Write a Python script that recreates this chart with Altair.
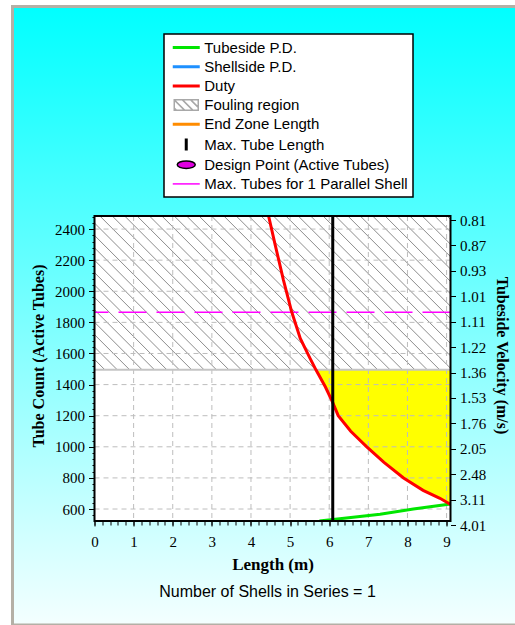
import altair as alt
import numpy as np
import pandas as pd

# ---------------- data ----------------
DUTY_L = [4.45, 4.62, 4.83, 5.04, 5.26, 5.51, 5.66, 5.90, 6.08, 6.23, 6.55, 6.96, 7.40, 7.90, 8.40, 8.83, 9.10]
DUTY_N = [2484, 2297, 2072, 1868, 1697, 1569, 1495, 1386, 1290, 1200, 1100, 1000, 900, 800, 720, 669, 630]

TUBE_PD_L = [5.75, 7.30, 8.15, 9.10]
TUBE_PD_N = [523, 566, 600, 632]

FOULING_N = 1495
MAX_TUBES_1_SHELL = 1865
MAX_TUBE_LENGTH = 6.09

X_DOMAIN = [0, 9.1]
Y_DOMAIN = [523, 2484]
X_TICKS = list(range(0, 10))
Y_TICKS = list(range(600, 2401, 200))
X_MINOR = [round(0.2 * i, 1) for i in range(46)]
Y_MINOR = list(range(560, 2481, 40))
GRID_X = list(range(1, 10))
GRID_Y = list(range(600, 2401, 200))

VEL_LABELS = ["0.81", "0.87", "0.93", "1.01", "1.11", "1.22", "1.36",
              "1.53", "1.76", "2.05", "2.48", "3.11", "4.01"]

LEGEND_LABELS = ["Tubeside P.D.", "Shellside P.D.", "Duty", "Fouling region",
                 "End Zone Length", "Max. Tube Length", "Design Point (Active Tubes)",
                 "Max. Tubes for 1 Parallel Shell"]
LEGEND_STROKES = ["#00e600", "#1e90ff", "#ff0000", "#a8a8a8",
                  "#ff8c00", "#000000", "#000000", "#ff00ff"]
LEGEND_FILLS = ["transparent", "transparent", "transparent", "transparent",
                "transparent", "transparent", "#e000e0", "transparent"]
THICK_LINE = "M-1.8,-0.1H1.8M-1.8,0.1H1.8"
LEGEND_SHAPES = [
    THICK_LINE,
    THICK_LINE,
    THICK_LINE,
    "M-1.6,-0.7H1.6V0.7H-1.6Z M-1.6,-0.7L-0.2,0.7 M-0.5,-0.7L0.9,0.7 M0.6,-0.7L1.6,0.3 M-1.6,0.4L-1.3,0.7",
    THICK_LINE,
    "M-0.1,-0.8V0.8M0.1,-0.8V0.8",
    "M-1.2,0A1.2,0.5,0,1,0,1.2,0A1.2,0.5,0,1,0,-1.2,0Z",
    "M-1.8,0H1.8",
]

# ---------------- layout ----------------
W, H = 356, 305
PAD_L, PAD_T = 94.5, 216
PAD_R = 515 - PAD_L - W
PAD_B = 625 - PAD_T - H

XS = alt.Scale(domain=X_DOMAIN, nice=False, zero=False)
YS = alt.Scale(domain=Y_DOMAIN, nice=False, zero=False)

duty_df = pd.DataFrame({"L": DUTY_L, "N": DUTY_N, "foul": FOULING_N})
tpd_df = pd.DataFrame({"L": TUBE_PD_L, "N": TUBE_PD_N})
frame_df = pd.DataFrame({"x0": [X_DOMAIN[0]], "x1": [X_DOMAIN[1]],
                         "y0": [Y_DOMAIN[0]], "y1": [Y_DOMAIN[1]]})

# hatch texture for the fouling region (45 degree lines)
px_per_n = H / (Y_DOMAIN[1] - Y_DOMAIN[0])
px_per_l = W / (X_DOMAIN[1] - X_DOMAIN[0])
dx = (Y_DOMAIN[1] - FOULING_N) * px_per_n / px_per_l
starts = np.arange(-4.3, X_DOMAIN[1] + 0.3, 12.4 / px_per_l)
hatch_df = pd.DataFrame({"hx": starts, "hx2": starts + dx,
                         "hy": Y_DOMAIN[1], "hy2": FOULING_N})

gx_df = pd.DataFrame({"gx": GRID_X})
gy_df = pd.DataFrame({"gy": GRID_Y})
one_df = pd.DataFrame({"a": [0]})

# ---------------- layers ----------------
bg = alt.Chart(one_df).mark_rect(
    fill={"gradient": "linear", "x1": 0, "x2": 0, "y1": 0, "y2": 1,
          "stops": [{"offset": 0, "color": "#00ffff"},
                    {"offset": 1, "color": "#f4ffff"}]},
    stroke="#b4b0a6", strokeWidth=3,
).encode(
    x=alt.value(12.5 - PAD_L), x2=alt.value(530 - PAD_L),
    y=alt.value(6.5 - PAD_T), y2=alt.value(625 - PAD_T),
)

plot_bg = alt.Chart(frame_df).mark_rect(fill="white").encode(
    x=alt.X("x0:Q", scale=XS, axis=None), x2="x1:Q",
    y=alt.Y("y1:Q", scale=YS, axis=None), y2="y0:Q",
)

yellow = alt.Chart(duty_df).transform_filter(
    f"datum.N <= {FOULING_N}"
).mark_area(color="#ffff00", opacity=1).encode(
    x=alt.X("L:Q", scale=XS, axis=None),
    y=alt.Y("N:Q", scale=YS, axis=None),
    y2="foul:Q",
)

hatch = alt.Chart(hatch_df).mark_rule(clip=True, color="#8c8c8c", strokeWidth=1).encode(
    x=alt.X("hx:Q", scale=XS, axis=None), x2="hx2:Q",
    y=alt.Y("hy:Q", scale=YS, axis=None), y2="hy2:Q",
)

grid_x = alt.Chart(gx_df).mark_rule(color="#bdbdbd", strokeDash=[5, 4], strokeWidth=1).encode(
    x=alt.X("gx:Q", scale=XS, axis=None))
grid_y = alt.Chart(gy_df).mark_rule(color="#bdbdbd", strokeDash=[5, 4], strokeWidth=1).encode(
    y=alt.Y("gy:Q", scale=YS, axis=None))

foul_line = alt.Chart(one_df).mark_rule(color="#c4c4c4", strokeWidth=2).encode(
    y=alt.YDatum(FOULING_N, scale=YS, axis=None))

magenta = alt.Chart(one_df).mark_rule(color="#ff00ff", strokeWidth=1.5,
                                      strokeDash=[28, 10]).encode(
    y=alt.YDatum(MAX_TUBES_1_SHELL, scale=YS, axis=None))

green = alt.Chart(tpd_df).mark_line(color="#00e600", strokeWidth=3, clip=True).encode(
    x=alt.X("L:Q", scale=XS, axis=None),
    y=alt.Y("N:Q", scale=YS, axis=None),
)

red = alt.Chart(duty_df).mark_line(color="#ff0000", strokeWidth=3, clip=True).encode(
    x=alt.X("L:Q", scale=XS, axis=None),
    y=alt.Y("N:Q", scale=YS, axis=None),
)

black = alt.Chart(one_df).mark_rule(color="black", strokeWidth=3).encode(
    x=alt.XDatum(MAX_TUBE_LENGTH, scale=XS, axis=None))

border = alt.Chart(frame_df).mark_rect(fill="transparent", stroke="black", strokeWidth=2).encode(
    x=alt.X("x0:Q", scale=XS, axis=None), x2="x1:Q",
    y=alt.Y("y1:Q", scale=YS, axis=None), y2="y0:Q",
)

LEG_PAD = 5
leg = alt.Legend(
    title=None, orient="none", legendX=164 - PAD_L, legendY=34 - PAD_T,
    padding=LEG_PAD, fillColor="white", strokeColor="black",
    symbolSize=225, symbolOffset=8.75, labelOffset=205 - 164 - LEG_PAD - 26.5,
    rowPadding=2.2,
    symbolFillColor="transparent", symbolStrokeWidth=1.5,
    labelFont="Liberation Sans", labelFontSize=15, labelColor="black",
    labelLimit=400,
)
legend_df = pd.DataFrame({"item": LEGEND_LABELS})
legend_layer = alt.Chart(legend_df).transform_filter("false").mark_point(
    filled=True, opacity=1
).encode(
    fill=alt.Fill("item:N", scale=alt.Scale(domain=LEGEND_LABELS, range=LEGEND_FILLS), legend=leg),
    stroke=alt.Stroke("item:N", scale=alt.Scale(domain=LEGEND_LABELS, range=LEGEND_STROKES), legend=leg),
    shape=alt.Shape("item:N", scale=alt.Scale(domain=LEGEND_LABELS, range=LEGEND_SHAPES), legend=leg),
)

main = alt.layer(bg, plot_bg, yellow, hatch, grid_x, grid_y, foul_line, magenta,
                 green, red, black, border, legend_layer)

# major axes (left / bottom)
major = alt.Chart(duty_df).mark_point(opacity=0).encode(
    x=alt.X("L:Q", scale=XS, axis=alt.Axis(
        orient="bottom", values=X_TICKS, format="d", grid=False, domain=False,
        tickSize=5, labelPadding=8, labelFlush=False, labelOverlap=False, zindex=1,
        title="Length (m)", titleX=W / 2, titleY=43, titleAlign="center",
        titleBaseline="middle", titleFontSize=17)),
    y=alt.Y("N:Q", scale=YS, axis=alt.Axis(
        orient="left", values=Y_TICKS, format="d", grid=False, domain=False,
        tickSize=6, labelPadding=4, labelFlush=False, labelOverlap=False, zindex=1,
        title="Tube Count (Active Tubes)", titleAngle=270, titleX=38 - PAD_L,
        titleY=139.5, titleAlign="center", titleBaseline="middle")),
)

# minor ticks
minor = alt.Chart(duty_df).mark_point(opacity=0).encode(
    x=alt.X("L:Q", scale=XS, axis=alt.Axis(
        orient="bottom", values=X_MINOR, labels=False, tickSize=4, domain=False,
        grid=False, title=None, zindex=1)),
    y=alt.Y("N:Q", scale=YS, axis=alt.Axis(
        orient="left", values=Y_MINOR, labels=False, tickSize=2.5, domain=False,
        grid=False, title=None, zindex=1)),
)

# right-hand velocity axis
vel_df = pd.DataFrame({"vi": list(range(len(VEL_LABELS)))})
vel_expr = "[" + ",".join("'" + s + "'" for s in VEL_LABELS) + "][datum.value]"
right = alt.Chart(vel_df).mark_point(opacity=0).encode(
    y=alt.Y("vi:Q",
            scale=alt.Scale(domain=[0, len(VEL_LABELS) - 1], reverse=True, nice=False, zero=False),
            axis=alt.Axis(orient="right", values=list(range(len(VEL_LABELS))),
                          labelExpr=vel_expr, tickOffset=4, tickSize=5, labelPadding=4,
                          domain=False, grid=False, labelFlush=False, labelOverlap=False,
                          zindex=1, title="Tubeside Velocity (m/s)", titleAngle=90,
                          titleX=50.5, titleY=139, titleAlign="center",
                          titleBaseline="middle")),
)

chart = alt.layer(main, major, minor, right).resolve_scale(
    x="independent", y="independent"
).properties(
    width=W, height=H,
    padding={"left": PAD_L, "top": PAD_T, "right": PAD_R, "bottom": PAD_B},
    autosize=alt.AutoSizeParams(type="none"),
    background="white",
    title=alt.TitleParams("Number of Shells in Series = 1", orient="bottom",
                          anchor="middle", font="Liberation Sans", fontSize=16,
                          fontWeight="normal", color="black", offset=-43, dx=-5),
).configure_view(
    stroke=None
).configure_axis(
    labelFont="Liberation Serif", labelFontSize=15, labelColor="black",
    tickColor="black", tickWidth=1,
    titleFont="Liberation Serif", titleFontSize=16, titleFontWeight="bold",
    titleColor="black",
).configure_legend(
    strokeWidth=1.5
)

chart.save("out.html", embed_options={"renderer": "svg", "actions": False})
